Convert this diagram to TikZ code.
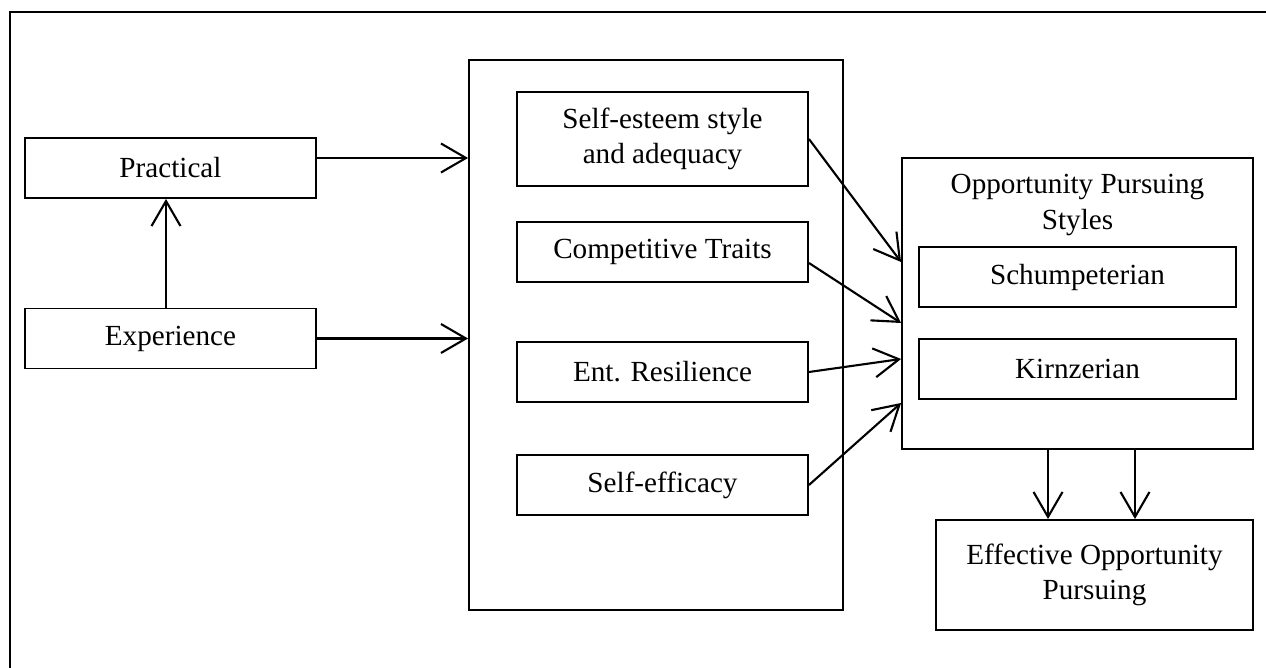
\documentclass[tikz,border=0pt]{standalone}
\usepackage{fontspec}
\setmainfont{Liberation Serif}
\usetikzlibrary{arrows.meta}

\begin{document}
\begin{tikzpicture}[x=0.02cm,y=-0.02cm,
    font=\fontsize{16.6}{20}\selectfont,
    box/.style={draw,line width=1.1pt,align=center,inner sep=0pt,minimum height=1.2cm},
    wide/.style={box,minimum width=5.82cm},
    arr/.style={line width=1.2pt,-{Straight Barb[length=0.5cm,width=0.58cm]}}]

     \useasboundingbox (0,0) rectangle (1266,668);

     % frame
     \draw[line width=1.6pt] (10,668) -- (10,12) -- (1266,12);

     % nodes
     \node[wide] (practical) at (170.5,168) {Practical};%
     \node[wide] (experience) at (170.5,338.5) {Experience};%

     \node[box, minimum width=7.48cm, minimum height=11cm] (traits) at (656,335) {};%
     \node[wide, minimum height=1.88cm] (esteem) at (662.5,139) {Self-esteem style\\and adequacy};%
     \node[wide] (compet) at (662.5,252) {Competitive Traits};%
     \node[wide] (resil) at (662.5,372) {Ent. Resilience};%
     \node[wide] (efficacy) at (662.5,485) {Self-efficacy};%

     \node[box, minimum width=7.02cm, minimum height=5.82cm] (styles) at (1077.5,303.5) {};%
     \node[align=center] (stylestitle) at (1077.5,205) {Opportunity Pursuing\\Styles};%
     \node[box, minimum width=6.34cm] (schump) at (1077.5,277) {Schumpeterian};%
     \node[box, minimum width=6.34cm] (kirz) at (1077.5,369) {Kirnzerian};%

     \node[box, minimum width=6.34cm, minimum height=2.2cm] (effective) at (1094.5,575) {Effective Opportunity\\Pursuing};%

     % edges
     \draw[arr] ([yshift=0.2cm]practical.east) -- ([yshift=0.2cm]practical.east -| traits.west);
     \draw[arr] (experience.east) -- (experience.east -| traits.west);
     \draw[arr] ([xshift=-0.09cm]experience.north) -- ([xshift=-0.09cm]practical.south);

     \draw[arr] (esteem.east) -- ([yshift=0.83cm]styles.west);
     \draw[arr] ([yshift=-0.22cm]compet.east) -- ([yshift=-0.39cm]styles.west);
     \draw[arr] (resil.east) -- ([yshift=-1.11cm]styles.west);
     \draw[arr] (efficacy.east) -- ([yshift=-1.99cm]styles.west);

     \draw[arr] ([xshift=-0.59cm]styles.south) -- ([xshift=-0.59cm]styles.south |- effective.north);
     \draw[arr] ([xshift=1.15cm]styles.south) -- ([xshift=1.15cm]styles.south |- effective.north);
 \end{tikzpicture}
\end{document}
